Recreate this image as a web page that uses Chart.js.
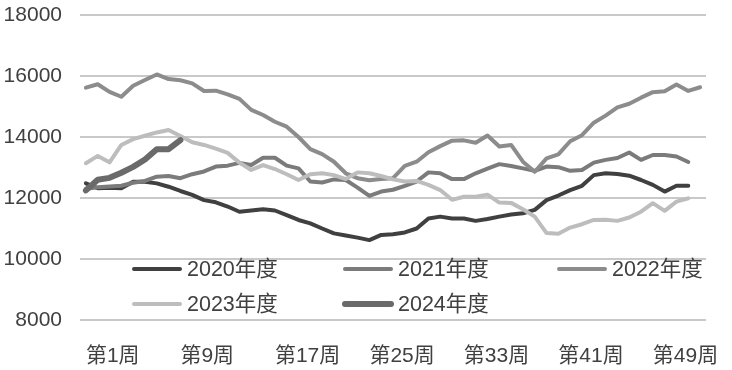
<!DOCTYPE html>
<html>
<head>
<meta charset="utf-8">
<script src="https://cdn.jsdelivr.net/npm/chart.js@4/dist/chart.umd.min.js"></script>
<style>
  html, body { margin: 0; padding: 0; background: #ffffff; }
  #wrap { width: 732px; height: 370px; position: relative; }
</style>
</head>
<body>
<div id="wrap"><canvas id="c" width="732" height="370"></canvas></div>
<script>
const weeks = ["第1周","第2周","第3周","第4周","第5周","第6周","第7周","第8周","第9周","第10周",
  "第11周","第12周","第13周","第14周","第15周","第16周","第17周","第18周","第19周","第20周",
  "第21周","第22周","第23周","第24周","第25周","第26周","第27周","第28周","第29周","第30周",
  "第31周","第32周","第33周","第34周","第35周","第36周","第37周","第38周","第39周","第40周",
  "第41周","第42周","第43周","第44周","第45周","第46周","第47周","第48周","第49周","第50周",
  "第51周","第52周","第53周"];

const seriesNames = ["2020年度", "2021年度", "2022年度", "2023年度", "2024年度"];

const y2020 = [12480, 12320, 12340, 12320, 12530, 12530, 12480, 12370, 12230, 12100,
  11930, 11860, 11720, 11550, 11590, 11630, 11590, 11440, 11280, 11170,
  11000, 10840, 10770, 10700, 10620, 10790, 10810, 10870, 11000, 11330,
  11390, 11330, 11330, 11250, 11310, 11390, 11460, 11500, 11610, 11930,
  12080, 12260, 12400, 12750, 12810, 12790, 12730, 12590, 12430, 12210,
  12400, 12400];

const y2021 = [12300, 12350, 12380, 12400, 12500, 12560, 12700, 12720, 12650, 12780,
  12870, 13030, 13060, 13150, 13080, 13320, 13320, 13060, 12970, 12540,
  12510, 12610, 12590, 12340, 12070, 12210, 12270, 12400, 12540, 12840,
  12810, 12620, 12620, 12810, 12960, 13110, 13050, 12970, 12890, 13030,
  13010, 12890, 12920, 13160, 13250, 13310, 13490, 13250, 13410, 13410,
  13360, 13180];

const y2022 = [15620, 15730, 15480, 15320, 15680, 15870, 16050, 15900, 15860, 15760,
  15510, 15520, 15400, 15250, 14890, 14720, 14500, 14340, 14000, 13600,
  13440, 13190, 12810, 12650, 12580, 12620, 12650, 13050, 13190, 13500,
  13700, 13880, 13890, 13810, 14050, 13690, 13740, 13190, 12860, 13300,
  13430, 13860, 14060, 14470, 14700, 14970, 15090, 15290, 15470, 15500,
  15720, 15510, 15630];

const y2023 = [13140, 13380, 13170, 13740, 13930, 14040, 14150, 14230, 14030, 13830,
  13740, 13620, 13480, 13160, 12920, 13080, 12950, 12780, 12590, 12780,
  12810, 12750, 12620, 12840, 12810, 12720, 12610, 12540, 12560, 12430,
  12260, 11940, 12040, 12040, 12110, 11850, 11840, 11630, 11390, 10850,
  10830, 11030, 11140, 11280, 11290, 11250, 11360, 11550, 11830, 11580,
  11880, 11990];

const y2024 = [12250, 12600, 12660, 12830, 13020, 13260, 13600, 13600, 13900];

const yTicks = [8000, 10000, 12000, 14000, 16000, 18000];

const FONT = '"Liberation Sans", "Noto Sans CJK SC", sans-serif';
const TEXT = '#404040';

const colors = ['#404040', '#7b7b7b', '#8c8c8c', '#bdbdbd', '#6a6a6a'];
const widths = [4, 4, 4, 4, 6];
const allData = [y2020, y2021, y2022, y2023, y2024];

const datasets = allData.map((d, k) => ({
  label: seriesNames[k],
  data: d,
  borderColor: colors[k],
  backgroundColor: colors[k],
  borderWidth: widths[k],
  pointRadius: 0,
  pointHoverRadius: 0,
  tension: 0,
  fill: false,
  borderJoinStyle: 'round',
  borderCapStyle: 'round',
  order: 5 - k
}));

// Custom legend drawn inside the plot area (two rows, three columns)
const insideLegend = {
  id: 'insideLegend',
  afterDatasetsDraw(chart) {
    const ctx = chart.ctx;
    const ca = chart.chartArea;
    const cols = [ca.left + 52, ca.left + 263, ca.left + 477];
    const rows = [ca.bottom - 51, ca.bottom - 16];
    ctx.save();
    ctx.font = '21.5px ' + FONT;
    ctx.textBaseline = 'middle';
    ctx.textAlign = 'left';
    chart.data.datasets.forEach((ds, k) => {
      const x = cols[k % 3];
      const y = rows[Math.floor(k / 3)];
      ctx.strokeStyle = ds.borderColor;
      ctx.lineWidth = ds.borderWidth;
      ctx.lineCap = 'round';
      ctx.beginPath();
      ctx.moveTo(x + 2, y);
      ctx.lineTo(x + 48, y);
      ctx.stroke();
      ctx.fillStyle = TEXT;
      ctx.fillText(ds.label, x + 55, y + 1);
    });
    ctx.restore();
  }
};

new Chart(document.getElementById('c'), {
  type: 'line',
  data: { labels: weeks, datasets: datasets },
  plugins: [insideLegend],
  options: {
    responsive: false,
    animation: false,
    events: [],
    layout: { padding: { top: 0, right: 26, bottom: 0, left: 0 } },
    plugins: {
      legend: { display: false },
      tooltip: { enabled: false },
      title: { display: false }
    },
    scales: {
      x: {
        type: 'category',
        offset: true,
        grid: { display: false },
        border: { display: false },
        afterFit(scale) { scale.height = 50; },
        ticks: {
          autoSkip: false,
          maxRotation: 0,
          minRotation: 0,
          align: 'start',
          padding: 16,
          color: TEXT,
          font: { family: FONT, size: 21 },
          callback(value, index) { return index % 8 === 0 ? weeks[index] : ''; }
        }
      },
      y: {
        min: yTicks[0],
        max: yTicks[yTicks.length - 1],
        afterFit(scale) { scale.width = 80; scale.paddingTop = 15; scale.paddingBottom = 0; },
        afterBuildTicks(scale) { scale.ticks = yTicks.map(v => ({ value: v })); },
        grid: { color: '#c9c9c9', lineWidth: 2, drawTicks: false },
        border: { display: false },
        ticks: {
          padding: 18,
          color: TEXT,
          font: { family: FONT, size: 21 },
          callback(v) { return String(v); }
        }
      }
    }
  }
});
</script>
</body>
</html>
